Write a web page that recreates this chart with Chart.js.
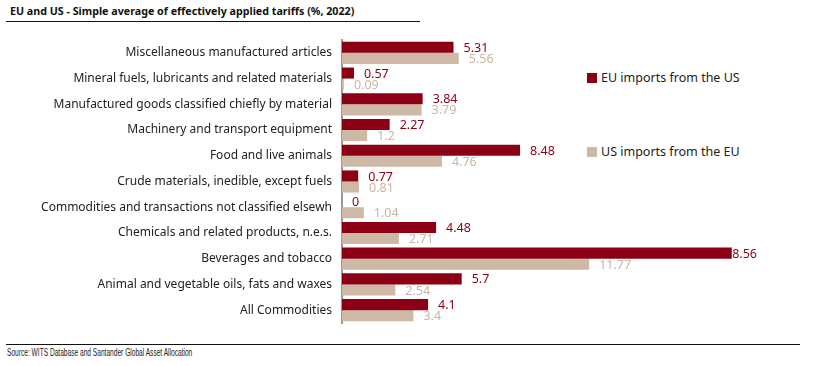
<!DOCTYPE html>
<html>
<head>
<meta charset="utf-8">
<script src="https://cdn.jsdelivr.net/npm/chart.js@4"></script>
<style>
  body { margin: 0; background: #fff; width: 822px; height: 366px; overflow: hidden; position: relative; font-family: "Noto Sans", sans-serif; }
  #title { position: absolute; left: 10px; top: 4px; font-size: 10.7px; font-weight: bold; color: #111; }
  .rule { position: absolute; left: 6px; height: 1px; background: #111; }
  #source { position: absolute; left: 7px; top: 346px; font-family: "Liberation Sans", sans-serif; font-size: 11px; color: #222; transform: scaleX(0.6); transform-origin: left top; white-space: nowrap; }
  .leg { position: absolute; left: 587px; font-size: 12.5px; color: #222; white-space: nowrap; }
  .leg span { display: inline-block; width: 10px; height: 10px; margin-right: 4px; vertical-align: -1px; }
  #wrap { position: absolute; left: 0; top: 0; width: 822px; height: 366px; }
</style>
</head>
<body>
<div id="title">EU and US - Simple average of effectively applied tariffs (%, 2022)</div>
<div class="rule" style="top:21px; width:414px;"></div>
<div class="rule" style="top:344px; width:794px;"></div>
<div id="source">Source: WITS Database and Santander Global Asset Allocation</div>
<div class="leg" style="top:69px;"><span style="background:#8b0015"></span>EU imports from the US</div>
<div class="leg" style="top:143px;"><span style="background:#cdb9a5"></span>US imports from the EU</div>
<div id="wrap"><canvas id="barChart"></canvas></div>
<script>
const categories = [
  "Miscellaneous manufactured articles",
  "Mineral fuels, lubricants and related materials",
  "Manufactured goods classified chiefly by material",
  "Machinery and transport equipment",
  "Food and live animals",
  "Crude materials, inedible, except fuels",
  "Commodities and transactions not classified elsewh",
  "Chemicals and related products, n.e.s.",
  "Beverages and tobacco",
  "Animal and vegetable oils, fats and waxes",
  "All Commodities"
];
const euFromUs = [5.31, 0.57, 3.84, 2.27, 8.48, 0.77, 0, 4.48, 18.56, 5.7, 4.1];
const usFromEu = [5.56, 0.09, 3.79, 1.2, 4.76, 0.81, 1.04, 2.71, 11.77, 2.54, 3.4];

const red = "#8b0015";
const tan = "#cdb9a5";
const labelColors = [red, "#c9b6a3"];

// value labels at the end of each bar, kept inside the plot area
const barLabels = {
  id: "barLabels",
  afterDatasetsDraw(chart) {
    const ctx = chart.ctx;
    const right = chart.chartArea.right - 5;
    ctx.save();
    ctx.font = "12.5px 'Noto Sans', sans-serif";
    ctx.textBaseline = "middle";
    ctx.textAlign = "left";
    chart.data.datasets.forEach(function(ds, i) {
      const meta = chart.getDatasetMeta(i);
      ctx.fillStyle = labelColors[i];
      meta.data.forEach(function(bar, j) {
        const txt = String(ds.data[j]);
        const w = ctx.measureText(txt).width;
        let x = bar.x + 10;
        if (x + w > right) x = right - w;
        ctx.fillText(txt, x, bar.y + 1);
      });
    });
    ctx.restore();
  }
};

const ctxBar = document.getElementById("barChart").getContext("2d");
const barChart = new Chart(ctxBar, {
  type: "bar",
  data: {
    labels: categories,
    datasets: [
      { label: "EU imports from the US", data: euFromUs, backgroundColor: red, categoryPercentage: 0.86, barPercentage: 1.0 },
      { label: "US imports from the EU", data: usFromEu, backgroundColor: tan, categoryPercentage: 0.86, barPercentage: 1.0 }
    ]
  },
  options: {
    indexAxis: "y",
    responsive: true,
    maintainAspectRatio: false,
    animation: false,
    layout: { padding: { top: 40, bottom: 43, right: 60, left: 0 } },
    plugins: { legend: { display: false }, tooltip: { enabled: false } },
    scales: {
      x: { min: 0, max: 20, display: false },
      y: {
        grid: { display: false, drawTicks: false },
        border: { display: true, color: "#9a9a9a", width: 2 },
        ticks: { color: "#222", padding: 10, font: { family: "'Noto Sans', sans-serif", size: 12 } },
        afterFit: function(scale) { scale.width = 342; }
      }
    }
  },
  plugins: [barLabels]
});
</script>
</body>
</html>
